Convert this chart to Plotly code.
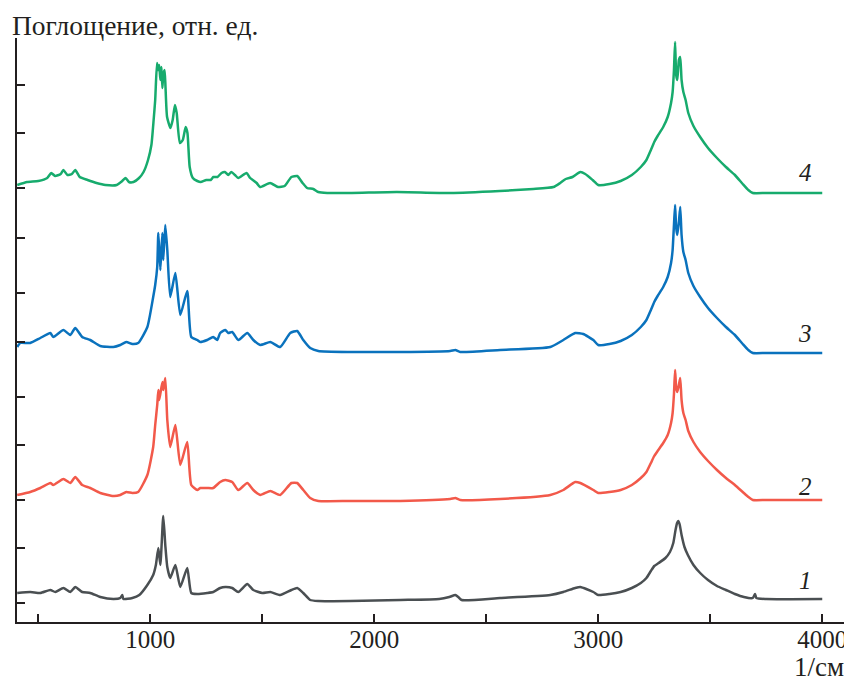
import plotly.graph_objects as go

# ---- Data (wavenumber, 1/cm ; absorbance, rel. units, spectra stacked with offsets) ----
wing_wn = [3000, 3050, 3100, 3150, 3190, 3215, 3235, 3250, 3265, 3290, 3310, 3325, 3332, 3338, 3343, 3348,
           3353, 3360, 3366, 3372, 3380, 3390, 3402, 3425, 3455, 3490, 3530, 3570, 3610, 3645, 3670, 3690,
           3750, 4000]

wn4 = [406, 450, 500, 540, 558, 575, 600, 612, 630, 650, 665, 685, 720, 760, 800, 850, 875, 890, 905, 925,
       950, 970, 990, 1005, 1015, 1022, 1030, 1035, 1040, 1045, 1050, 1054, 1058, 1064, 1068, 1075, 1090,
       1100, 1110, 1118, 1132, 1145, 1158, 1166, 1176, 1190, 1210, 1225, 1250, 1270, 1282, 1300, 1318, 1333,
       1348, 1362, 1378, 1393, 1430, 1446, 1475, 1490, 1535, 1570, 1600, 1630, 1656, 1680, 1700, 1728, 1750,
       1790, 1900, 2100, 2340, 2560, 2710, 2800, 2830, 2855, 2885, 2920, 2942, 2975] + wing_wn
a4 = [4.37, 4.40, 4.41, 4.44, 4.49, 4.46, 4.48, 4.52, 4.47, 4.48, 4.52, 4.45, 4.42, 4.39, 4.37, 4.37, 4.41,
      4.44, 4.40, 4.40, 4.44, 4.50, 4.62, 4.77, 5.02, 5.22, 5.59, 5.52, 5.57, 5.42, 5.55, 5.34, 5.47, 5.52,
      5.35, 5.05, 4.94, 5.02, 5.17, 5.09, 4.79, 4.82, 4.95, 4.89, 4.55, 4.44, 4.41, 4.40, 4.42, 4.42, 4.45,
      4.45, 4.49, 4.50, 4.47, 4.50, 4.47, 4.44, 4.49, 4.44, 4.39, 4.35, 4.39, 4.35, 4.36, 4.45, 4.46, 4.39,
      4.34, 4.33, 4.30, 4.29, 4.29, 4.30, 4.29, 4.31, 4.33, 4.35, 4.39, 4.43, 4.45, 4.50, 4.48, 4.42,
      4.37, 4.38, 4.41, 4.47, 4.55, 4.62, 4.72, 4.80, 4.86, 4.95, 5.05, 5.19, 5.30, 5.52, 5.80, 5.47, 5.42,
      5.62, 5.65, 5.42, 5.30, 5.22, 5.09, 4.96, 4.85, 4.74, 4.64, 4.55, 4.47, 4.38, 4.32, 4.29, 4.29, 4.29]

wn3 = [406, 420, 464, 509, 554, 567, 612, 643, 665, 696, 732, 777, 835, 866, 893, 920, 946, 987, 1013, 1022,
       1031, 1036, 1045, 1054, 1058, 1067, 1076, 1089, 1112, 1134, 1165, 1183, 1210, 1223, 1254, 1281, 1299,
       1312, 1335, 1348, 1366, 1393, 1433, 1460, 1491, 1536, 1580, 1625, 1656, 1683, 1714, 1750, 1893, 2116,
       2339, 2362, 2384, 2562, 2786, 2844, 2897, 2933, 2978] + wing_wn
a3 = [2.75, 2.79, 2.79, 2.84, 2.89, 2.85, 2.92, 2.87, 2.94, 2.85, 2.82, 2.76, 2.75, 2.77, 2.80, 2.78, 2.79,
      2.95, 3.25, 3.37, 3.55, 3.89, 3.52, 3.89, 3.62, 3.97, 3.72, 3.25, 3.49, 3.07, 3.31, 2.85, 2.82, 2.80,
      2.82, 2.85, 2.82, 2.89, 2.92, 2.89, 2.90, 2.82, 2.89, 2.82, 2.77, 2.80, 2.75, 2.89, 2.91, 2.82, 2.74,
      2.71, 2.70, 2.70, 2.71, 2.72, 2.70, 2.72, 2.75, 2.82, 2.89, 2.88, 2.82,
      2.77, 2.78, 2.81, 2.87, 2.95, 3.02, 3.12, 3.20, 3.26, 3.35, 3.45, 3.59, 3.72, 3.97, 4.17, 3.94, 3.87,
      4.00, 4.15, 3.87, 3.70, 3.62, 3.49, 3.36, 3.25, 3.14, 3.04, 2.95, 2.87, 2.78, 2.72, 2.69, 2.69, 2.69]

wn2 = [406, 464, 509, 554, 567, 612, 643, 665, 696, 732, 777, 835, 866, 893, 920, 946, 987, 1013, 1022, 1031,
       1036, 1040, 1054, 1058, 1067, 1076, 1089, 1112, 1134, 1165, 1183, 1210, 1223, 1254, 1281, 1312, 1335,
       1366, 1393, 1433, 1460, 1491, 1536, 1580, 1630, 1656, 1683, 1714, 1750, 1893, 2116, 2339, 2362, 2384,
       2562, 2786, 2844, 2897, 2920, 2978] + wing_wn
a2 = [1.27, 1.30, 1.34, 1.39, 1.37, 1.43, 1.39, 1.45, 1.37, 1.34, 1.29, 1.26, 1.27, 1.30, 1.29, 1.30, 1.47,
      1.75, 1.97, 2.17, 2.32, 2.22, 2.40, 2.32, 2.44, 2.02, 1.75, 1.97, 1.57, 1.80, 1.37, 1.32, 1.34, 1.34,
      1.34, 1.40, 1.42, 1.40, 1.32, 1.39, 1.32, 1.27, 1.31, 1.27, 1.39, 1.39, 1.32, 1.24, 1.21, 1.21, 1.21,
      1.23, 1.24, 1.22, 1.23, 1.27, 1.32, 1.40, 1.39, 1.32,
      1.29, 1.30, 1.32, 1.37, 1.44, 1.50, 1.59, 1.66, 1.71, 1.79, 1.87, 1.99, 2.09, 2.28, 2.52, 2.34, 2.30,
      2.37, 2.44, 2.22, 2.09, 2.02, 1.91, 1.80, 1.70, 1.61, 1.52, 1.44, 1.37, 1.30, 1.25, 1.22, 1.22, 1.22]

wn1 = [406, 464, 509, 554, 576, 612, 643, 665, 696, 732, 777, 835, 866, 875, 880, 920, 951, 987, 1013, 1025,
       1036, 1045, 1058, 1067, 1076, 1089, 1112, 1134, 1165, 1183, 1210, 1254, 1281, 1312, 1335, 1366, 1393,
       1433, 1460, 1500, 1536, 1580, 1630, 1656, 1683, 1714, 1750, 1893, 2116, 2290, 2335, 2362, 2375, 2390,
       2562, 2786, 2844, 2897, 2920, 2978, 3000, 3050, 3100, 3150, 3190, 3215, 3235, 3250, 3270, 3300, 3320,
       3335, 3345, 3352, 3357, 3363, 3372, 3385, 3400, 3425, 3455, 3490, 3530, 3570, 3610, 3650, 3690, 3700,
       3706, 3750, 4000]
a1 = [0.29, 0.30, 0.29, 0.32, 0.30, 0.34, 0.30, 0.35, 0.30, 0.29, 0.25, 0.23, 0.24, 0.27, 0.23, 0.24, 0.27,
      0.37, 0.47, 0.57, 0.74, 0.57, 1.06, 0.77, 0.55, 0.44, 0.57, 0.35, 0.54, 0.29, 0.28, 0.29, 0.30, 0.34,
      0.35, 0.34, 0.30, 0.38, 0.32, 0.29, 0.30, 0.27, 0.32, 0.34, 0.29, 0.22, 0.21, 0.21, 0.22, 0.23, 0.25,
      0.27, 0.25, 0.22, 0.24, 0.27, 0.30, 0.34, 0.35, 0.30, 0.27, 0.28, 0.30, 0.34, 0.39, 0.44, 0.51, 0.56,
      0.59, 0.64, 0.70, 0.79, 0.92, 0.99, 1.01, 0.98, 0.87, 0.75, 0.67, 0.57, 0.49, 0.42, 0.36, 0.32, 0.28,
      0.25, 0.24, 0.28, 0.24, 0.23, 0.23]

curve_labels = ["1", "2", "3", "4"]
label_y = [0.42, 1.36, 2.89, 4.50]
label_x = 3924

x_tickvals = [500, 1000, 1500, 2000, 2500, 3000, 3500, 4000]
x_ticktext = ["", "1000", "", "2000", "", "3000", "", "4000"]
y_tickvals = [0.19, 0.74, 1.22, 1.77, 2.25, 2.80, 3.29, 3.84, 4.34, 4.89, 5.37]

colors = ["#4a4f52", "#f2594a", "#0a72bd", "#17ab6d"]
series = [(wn1, a1), (wn2, a2), (wn3, a3), (wn4, a4)]

fig = go.Figure()
for (xs, ys), c in zip(series, colors):
    fig.add_trace(go.Scatter(x=xs, y=ys, mode="lines",
                             line=dict(color=c, width=2.5, shape="spline", smoothing=0.5),
                             showlegend=False, hoverinfo="skip"))

for t, yy in zip(curve_labels, label_y):
    fig.add_annotation(x=label_x, y=yy, text=t, showarrow=False,
                       font=dict(family="Liberation Serif", size=25, color="#231f20", style="italic"))

fig.add_annotation(xref="paper", yref="paper", x=-0.009, y=1.022, xanchor="left", yanchor="middle",
                   text="Поглощение, отн. ед.", showarrow=False,
                   font=dict(family="Liberation Serif", size=27.5, color="#231f20"))
fig.add_annotation(xref="paper", yref="paper", x=0.997, y=-0.077, xanchor="right", yanchor="middle",
                   text="1/см", showarrow=False,
                   font=dict(family="Liberation Serif", size=27, color="#231f20"))

# page body has an 8px default margin: plot area placed so it lands at x 17..848, y 38..622 on the page
fig.update_layout(
    width=852, height=678,
    margin=dict(l=9, r=12, t=30, b=64),
    paper_bgcolor="white", plot_bgcolor="white",
    xaxis=dict(range=[405, 4115], showgrid=False, zeroline=False, showline=True, linecolor="#231f20",
               linewidth=1.5, ticks="inside", ticklen=8, tickwidth=1.5, tickcolor="#231f20",
               tickvals=x_tickvals, ticktext=x_ticktext, ticklabelstandoff=-6,
               tickfont=dict(family="Liberation Serif", size=25, color="#231f20")),
    yaxis=dict(range=[0, 5.84], showgrid=False, zeroline=False, showline=True, linecolor="#231f20",
               linewidth=1.5, ticks="inside", ticklen=8, tickwidth=1.5, tickcolor="#231f20",
               tickvals=y_tickvals, showticklabels=False),
)

fig.write_html("out.html")
